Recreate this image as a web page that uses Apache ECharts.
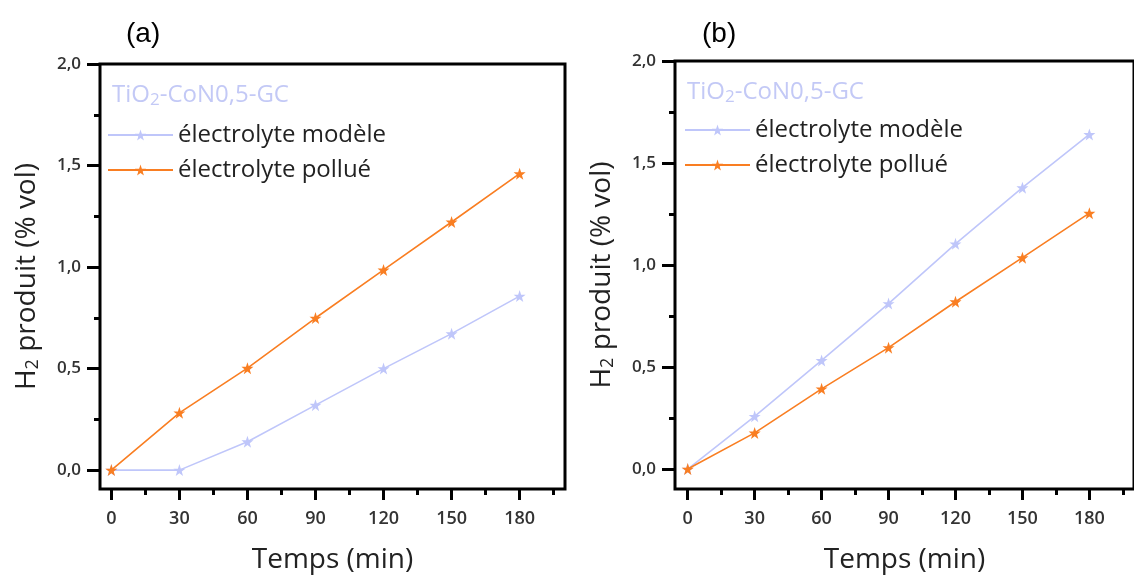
<!DOCTYPE html>
<html>
<head>
<meta charset="utf-8">
<script src="https://cdn.jsdelivr.net/npm/echarts@6/dist/echarts.min.js"></script>
<style>
html,body{margin:0;padding:0;background:#fff;}
#chart{width:1134px;height:579px;}
</style>
</head>
<body>
<div id="chart"></div>
<script>
const times = [0, 30, 60, 90, 120, 150, 180];
const xTicks = [0, 30, 60, 90, 120, 150, 180];
const xMinorTicks = [15, 45, 75, 105, 135, 165, 195];
const yTicks = [0, 0.5, 1, 1.5, 2];
const yMinorTicks = [0.25, 0.75, 1.25, 1.75];
const a_modele = [0, 0, 0.14, 0.32, 0.50, 0.672, 0.857];
const a_pollue = [0, 0.282, 0.502, 0.749, 0.986, 1.222, 1.46];
const b_modele = [0, 0.258, 0.532, 0.811, 1.104, 1.379, 1.64];
const b_pollue = [0, 0.177, 0.393, 0.595, 0.82, 1.036, 1.254];
const seriesNames = ['électrolyte modèle', 'électrolyte pollué'];
const panelLabels = ['(a)', '(b)'];

const BLUE = '#bfc6fa';
const ORANGE = '#f97e22';
const STAR = 'path://M50,0 L61.8,35.1 L98.1,35.1 L68.8,56.7 L79.4,91 L50,70 L20.6,91 L31.2,56.7 L1.9,35.1 L38.2,35.1 Z';
const FONT = 'Open Sans';

function pts(vals) { return times.map((t, i) => [t, vals[i]]); }

const grids = [
  {left: 100, top: 64, width: 465, height: 429},
  {left: 675, top: 61, width: 466, height: 431}
];
const xRanges = [[-5, 200], [-5.7, 200]];
const yRanges = [[-0.093, 2], [-0.098, 2]];

const xAxis = [], yAxis = [];
grids.forEach((g, gi) => {
  xAxis.push({
    type: 'value', gridIndex: gi, min: xRanges[gi][0], max: xRanges[gi][1], position: 'bottom',
    axisLine: {show: false, onZero: false}, splitLine: {show: false},
    axisTick: {show: true, customValues: xTicks, length: 11, lineStyle: {color: '#000', width: 3}},
    axisLabel: {customValues: xTicks, margin: 21, fontSize: 18, fontWeight: 600, fontFamily: FONT, color: '#333'},
    name: 'Temps (min)', nameLocation: 'middle', nameGap: 57,
    nameTextStyle: {fontSize: 28, fontFamily: FONT, color: '#222'}
  });
  xAxis.push({
    type: 'value', gridIndex: gi, min: xRanges[gi][0], max: xRanges[gi][1], position: 'bottom',
    axisLine: {show: false, onZero: false}, splitLine: {show: false},
    axisTick: {show: true, customValues: xMinorTicks, length: 6, lineStyle: {color: '#000', width: 3}},
    axisLabel: {show: false}
  });
  yAxis.push({
    type: 'value', gridIndex: gi, min: yRanges[gi][0], max: yRanges[gi][1], position: 'left',
    axisLine: {show: false, onZero: false}, splitLine: {show: false},
    axisTick: {show: true, customValues: yTicks, length: 13, lineStyle: {color: '#000', width: 3}},
    axisLabel: {customValues: yTicks, margin: 19, fontSize: 17, fontWeight: 600, fontFamily: FONT, color: '#333',
      formatter: v => v.toFixed(1).replace('.', ',')},
    name: '{n|H}{s|2}{n| produit (% vol)}', nameLocation: 'middle', nameGap: 58,
    nameTextStyle: {rich: {
      n: {fontSize: 28, fontFamily: FONT, color: '#222'},
      s: {fontSize: 18, fontFamily: FONT, color: '#222', padding: [12, 0, 0, 0]}
    }}
  });
  yAxis.push({
    type: 'value', gridIndex: gi, min: yRanges[gi][0], max: yRanges[gi][1], position: 'left',
    axisLine: {show: false, onZero: false}, splitLine: {show: false},
    axisTick: {show: true, customValues: yMinorTicks, length: 6, lineStyle: {color: '#000', width: 3}},
    axisLabel: {show: false}
  });
});

function mkSeries(name, data, color, gi, z) {
  return {
    name: name, type: 'line', xAxisIndex: gi * 2, yAxisIndex: gi * 2, data: pts(data),
    symbol: STAR, symbolSize: 12, z: z,
    lineStyle: {color: color, width: 1.6}, itemStyle: {color: color},
    emphasis: {disabled: true}, animation: false
  };
}

const series = [
  mkSeries(seriesNames[0], a_modele, BLUE, 0, 2),
  mkSeries(seriesNames[1], a_pollue, ORANGE, 0, 3),
  mkSeries(seriesNames[0], b_modele, BLUE, 1, 2),
  mkSeries(seriesNames[1], b_pollue, ORANGE, 1, 3)
];

const titleRich = {
  a: {fontSize: 24, fontWeight: 'normal', fontFamily: FONT, color: '#c3c9f6'},
  s: {fontSize: 17, fontWeight: 'normal', fontFamily: FONT, color: '#c3c9f6', padding: [11, 0, 0, 0]}
};

const option = {
  backgroundColor: '#fff',
  animation: false,
  grid: grids.map(g => Object.assign({show: true, borderColor: '#000', borderWidth: 3, backgroundColor: 'transparent'}, g)),
  xAxis: xAxis,
  yAxis: yAxis,
  title: [
    {text: panelLabels[0], left: 121, top: 15, textStyle: {fontSize: 28, fontWeight: 'normal', fontFamily: 'Liberation Sans', color: '#000'}},
    {text: panelLabels[1], left: 697, top: 15, textStyle: {fontSize: 28, fontWeight: 'normal', fontFamily: 'Liberation Sans', color: '#000'}},
    {text: '{a|TiO}{s|2}{a|-CoN0,5-GC}', left: 107, top: 76, textStyle: {rich: titleRich}},
    {text: '{a|TiO}{s|2}{a|-CoN0,5-GC}', left: 682, top: 73, textStyle: {rich: titleRich}}
  ],
  legend: [
    {data: seriesNames, orient: 'vertical', left: 102, top: 118, itemWidth: 65, itemHeight: 14, itemGap: 11,
      textStyle: {fontSize: 24, fontFamily: FONT, color: '#222'}, selectedMode: false},
    {data: seriesNames, orient: 'vertical', left: 679, top: 113, itemWidth: 65, itemHeight: 14, itemGap: 11,
      textStyle: {fontSize: 24, fontFamily: FONT, color: '#222'}, selectedMode: false}
  ],
  series: series
};

const chart = echarts.init(document.getElementById('chart'), null, {renderer: 'canvas'});
chart.setOption(option);
</script>
</body>
</html>
